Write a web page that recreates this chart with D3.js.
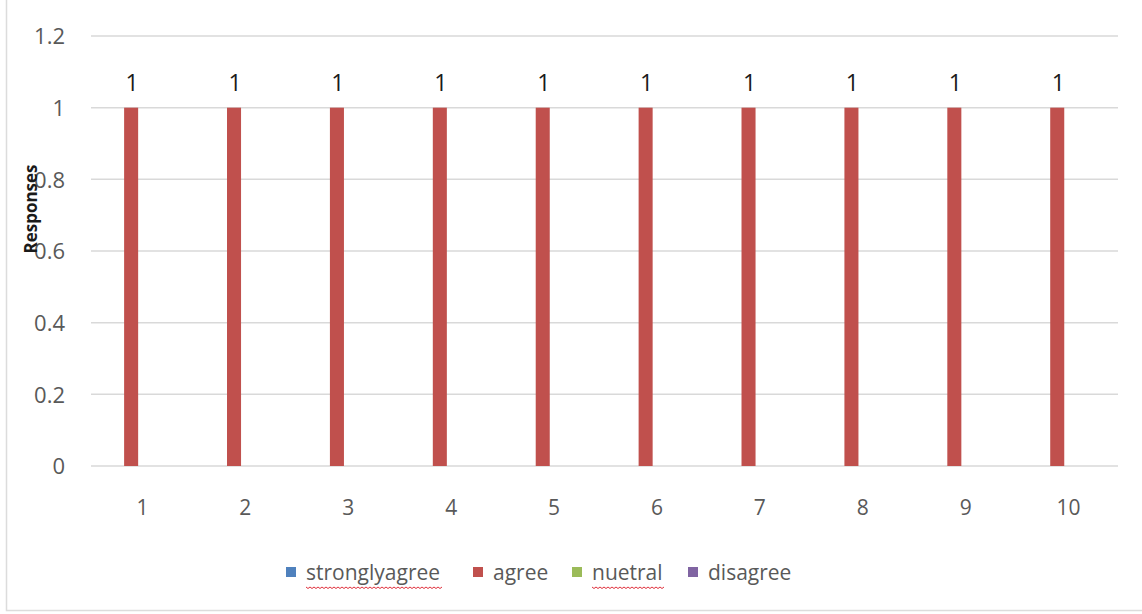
<!DOCTYPE html>
<html>
<head>
<meta charset="utf-8">
<script src="https://cdn.jsdelivr.net/npm/d3@7"></script>
<style>
  html, body { margin: 0; padding: 0; background: #fff; }
  svg { display: block; }
  text { font-family: "Open Sans", "Noto Sans", sans-serif; }
</style>
</head>
<body>
<svg id="chart" width="1142" height="614"></svg>
<script>
// ---- data ----
const categories = ["1", "2", "3", "4", "5", "6", "7", "8", "9", "10"];
const seriesNames = ["stronglyagree", "agree", "nuetral", "disagree"];
const stronglyagree = [0, 0, 0, 0, 0, 0, 0, 0, 0, 0];
const agree = [1, 1, 1, 1, 1, 1, 1, 1, 1, 1];
const nuetral = [0, 0, 0, 0, 0, 0, 0, 0, 0, 0];
const disagree = [0, 0, 0, 0, 0, 0, 0, 0, 0, 0];
const yTicks = [0, 0.2, 0.4, 0.6, 0.8, 1, 1.2];
const yTickLabels = ["0", "0.2", "0.4", "0.6", "0.8", "1", "1.2"];
const spellFlagged = ["stronglyagree", "nuetral"];

const seriesValues = [stronglyagree, agree, nuetral, disagree];
const colors = ["#4f81bd", "#c0504d", "#9bbb59", "#8064a2"];

const svg = d3.select("#chart");
const W = 1142, H = 614;
const plot = { left: 91, right: 1120, top: 36, bottom: 466 };

// chart border
svg.append("rect")
  .attr("x", 6.5).attr("y", -5)
  .attr("width", W + 10).attr("height", 615.5)
  .attr("fill", "none").attr("stroke", "#dcdcdc").attr("stroke-width", 1.5);

const x = d3.scaleBand().domain(categories).range([plot.left, plot.right]).paddingInner(0.12).paddingOuter(0.06);
const xs = d3.scaleBand().domain(seriesNames).range([0, x.bandwidth()]).paddingInner(0.38).paddingOuter(0.19);
const y = d3.scaleLinear().domain([0, 1.2]).range([plot.bottom, plot.top]);

// gridlines
svg.append("g").selectAll("line").data(yTicks).join("line")
  .attr("x1", plot.left).attr("x2", plot.right - 2)
  .attr("y1", d => y(d)).attr("y2", d => y(d))
  .attr("stroke", "#d9d9d9").attr("stroke-width", 1.5);

// y axis labels
const yAxis = d3.axisLeft(y).tickValues(yTicks).tickFormat((d, i) => yTickLabels[i]).tickSize(0).tickPadding(0);
const gy = svg.append("g").attr("transform", `translate(${plot.left - 26},0)`).call(yAxis);
gy.select(".domain").remove();
gy.selectAll("text").attr("font-size", 22).attr("fill", "#595959")
  .attr("font-family", "'Open Sans', sans-serif").attr("dy", "0.35em");

// x axis labels
const xAxis = d3.axisBottom(x).tickSize(0).tickPadding(0);
const gx = svg.append("g").attr("transform", `translate(0,${plot.bottom + 49})`).call(xAxis);
gx.select(".domain").remove();
gx.selectAll("text").attr("font-size", 21).attr("fill", "#595959")
  .attr("font-family", "'Open Sans', sans-serif").attr("dy", "0");

// bars
const rows = categories.map((c, i) => ({ c, vals: seriesNames.map((s, k) => ({ s, k, v: seriesValues[k][i] })) }));
const groups = svg.append("g").selectAll("g").data(rows).join("g")
  .attr("transform", d => `translate(${x(d.c)},0)`);
groups.selectAll("rect").data(d => d.vals.filter(v => v.v > 0)).join("rect")
  .attr("x", d => xs(d.s)).attr("width", xs.bandwidth())
  .attr("y", d => y(d.v)).attr("height", d => y(0) - y(d.v))
  .attr("fill", d => colors[d.k]);
groups.selectAll("text.lbl").data(d => d.vals.filter(v => v.v > 0)).join("text")
  .attr("class", "lbl")
  .attr("x", d => xs(d.s) + xs.bandwidth() / 2 + 1)
  .attr("y", d => y(d.v) - 17)
  .attr("text-anchor", "middle").attr("font-size", 23).attr("fill", "#1a1a1a")
  .text(d => d.v);

// y-axis title
svg.append("text")
  .attr("transform", "translate(37,209) rotate(-90)")
  .attr("text-anchor", "middle").attr("font-size", 17).attr("font-weight", "bold")
  .attr("fill", "#1a1a1a")
  .text("Responses");

// legend
const legendX = [286, 473, 572, 688];
const leg = svg.append("g");
seriesNames.forEach((s, k) => {
  leg.append("rect").attr("x", legendX[k]).attr("y", 567).attr("width", 10).attr("height", 10).attr("fill", colors[k]);
  const t = leg.append("text").attr("x", legendX[k] + 20).attr("y", 580)
    .attr("font-size", 21).attr("fill", "#595959").text(s);
  if (spellFlagged.includes(s)) {
    const len = t.node().getComputedTextLength();
    const x0 = legendX[k] + 20, yy = 587;
    let dstr = `M${x0},${yy}`;
    for (let px = 0; px < len; px += 2) {
      dstr += ` L${x0 + px + 2},${yy + ((px / 2) % 2 === 0 ? 1.5 : 0)}`;
    }
    leg.append("path").attr("d", dstr).attr("fill", "none").attr("stroke", "#e0303c").attr("stroke-width", 1);
  }
});
</script>
</body>
</html>
